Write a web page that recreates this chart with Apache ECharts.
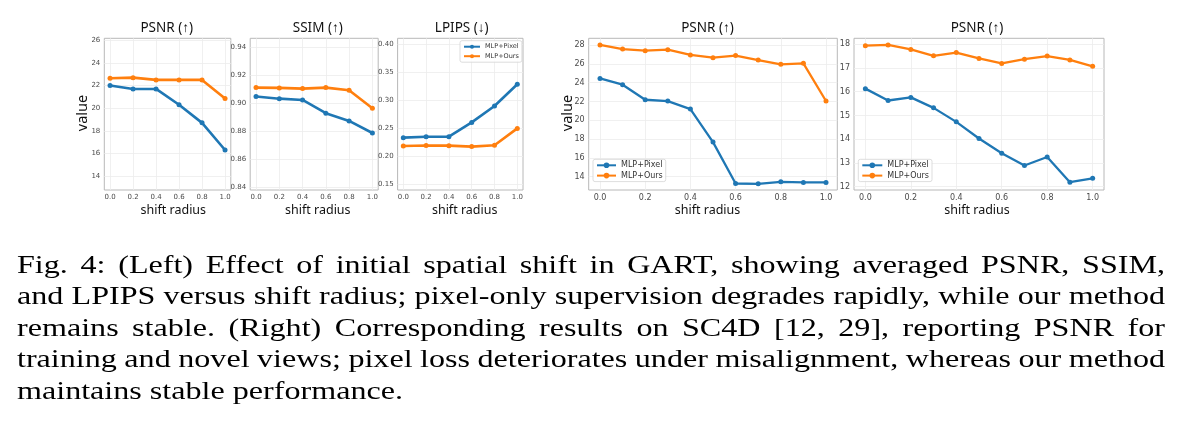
<!DOCTYPE html>
<html>
<head>
<meta charset="utf-8">
<script src="https://cdn.jsdelivr.net/npm/echarts@6/dist/echarts.min.js"></script>
<style>
html,body{margin:0;padding:0;background:#fff;}
#chart{width:1187px;height:440px;}
</style>
</head>
<body>
<div id="chart"></div>
<script>
// ---- data ----
const radius6 = [0.0, 0.2, 0.4, 0.6, 0.8, 1.0];
const radius11 = [0.0, 0.1, 0.2, 0.3, 0.4, 0.5, 0.6, 0.7, 0.8, 0.9, 1.0];
const seriesNames = ['MLP+Pixel', 'MLP+Ours'];

const gartPsnrPixel = [22.0, 21.7, 21.7, 20.3, 18.7, 16.3];
const gartPsnrOurs  = [22.65, 22.7, 22.5, 22.5, 22.5, 20.85];
const gartSsimPixel = [0.9048, 0.9033, 0.9024, 0.8929, 0.8874, 0.8788];
const gartSsimOurs  = [0.9112, 0.9110, 0.9105, 0.9112, 0.9093, 0.8964];
const gartLpipsPixel = [0.2333, 0.2350, 0.2350, 0.2605, 0.2898, 0.3286];
const gartLpipsOurs  = [0.2185, 0.2193, 0.2190, 0.2173, 0.2196, 0.2498];
const sc4dTrainPixel = [24.45, 23.78, 22.18, 22.04, 21.19, 17.68, 13.28, 13.25, 13.46, 13.40, 13.40];
const sc4dTrainOurs  = [28.00, 27.57, 27.40, 27.50, 26.94, 26.65, 26.87, 26.40, 25.94, 26.05, 22.05];
const sc4dNovelPixel = [16.13, 15.63, 15.76, 15.32, 14.73, 14.03, 13.41, 12.89, 13.25, 12.19, 12.35];
const sc4dNovelOurs  = [17.94, 17.97, 17.78, 17.51, 17.65, 17.40, 17.19, 17.37, 17.50, 17.34, 17.07];

const xTicks = [0.0, 0.2, 0.4, 0.6, 0.8, 1.0];
const yTicksGartPsnr = [14, 16, 18, 20, 22, 24, 26];
const yTicksSsim = [0.84, 0.86, 0.88, 0.90, 0.92, 0.94];
const yTicksLpips = [0.15, 0.20, 0.25, 0.30, 0.35, 0.40];
const yTicksTrain = [14, 16, 18, 20, 22, 24, 26, 28];
const yTicksNovel = [12, 13, 14, 15, 16, 17, 18];

const panelTitles = ['PSNR (↑)', 'SSIM (↑)', 'LPIPS (↓)', 'PSNR (↑)', 'PSNR (↑)'];
const xAxisTitle = 'shift radius';
const yAxisTitle = 'value';
const captionLines = [
  'Fig. 4: (Left) Effect of initial spatial shift in GART, showing averaged PSNR, SSIM,',
  'and LPIPS versus shift radius; pixel-only supervision degrades rapidly, while our method',
  'remains stable. (Right) Corresponding results on SC4D [12, 29], reporting PSNR for',
  'training and novel views; pixel loss deteriorates under misalignment, whereas our method',
  'maintains stable performance.'
];

// ---- layout / style ----
const BLUE = '#1f77b4', ORANGE = '#ff7f0e';
const panels = [
  {left: 104.3, width: 126.5, ymin: 12.76, ymax: 26.18, ticks: yTicksGartPsnr, dec: 0, fs: 7, lw: 2.6, ss: 5,
   pixel: gartPsnrPixel, ours: gartPsnrOurs, xs: radius6, titleX: 166.7, xlabX: 173.3},
  {left: 250.2, width: 128, ymin: 0.8381, ymax: 0.9464, ticks: yTicksSsim, dec: 2, fs: 7, lw: 2.6, ss: 5,
   pixel: gartSsimPixel, ours: gartSsimOurs, xs: radius6, titleX: 317.8, xlabX: 317.8},
  {left: 397.6, width: 125.4, ymin: 0.1398, ymax: 0.4107, ticks: yTicksLpips, dec: 2, fs: 7, lw: 2.6, ss: 5,
   pixel: gartLpipsPixel, ours: gartLpipsOurs, xs: radius6, titleX: 461.7, xlabX: 464.7},
  {left: 588.7, width: 248.6, ymin: 12.59, ymax: 28.71, ticks: yTicksTrain, dec: 0, fs: 8, lw: 2.3, ss: 5,
   pixel: sc4dTrainPixel, ours: sc4dTrainOurs, xs: radius11, titleX: 707.5, xlabX: 707.5},
  {left: 854.0, width: 250, ymin: 11.86, ymax: 18.25, ticks: yTicksNovel, dec: 0, fs: 8, lw: 2.3, ss: 5,
   pixel: sc4dNovelPixel, ours: sc4dNovelOurs, xs: radius11, titleX: 977, xlabX: 977}
];
const TOP = 38.3, HEIGHT = 151.7;
const labelColor = '#4a4a4a';

const grids = [], xAxes = [], yAxes = [], series = [], graphics = [];
panels.forEach((p, i) => {
  grids.push({left: p.left, top: TOP, width: p.width, height: HEIGHT, show: true,
    borderColor: '#b8b8b8', borderWidth: 1, backgroundColor: '#fff', containLabel: false, outerBoundsMode: 'none'});
  xAxes.push({type: 'value', gridIndex: i, min: -0.05, max: 1.05,
    axisLine: {show: false}, axisTick: {show: false, customValues: xTicks},
    axisLabel: {customValues: xTicks, formatter: v => v.toFixed(1), fontFamily: 'DejaVu Sans',
      fontSize: p.fs, color: labelColor, margin: 4},
    splitLine: {show: true, lineStyle: {color: '#ececec', width: 0.8}}});
  yAxes.push({type: 'value', gridIndex: i, min: p.ymin, max: p.ymax,
    axisLine: {show: false}, axisTick: {show: false, customValues: p.ticks},
    axisLabel: {customValues: p.ticks, formatter: v => v.toFixed(p.dec), fontFamily: 'DejaVu Sans',
      fontSize: p.fs, color: labelColor, margin: 4},
    splitLine: {show: true, lineStyle: {color: '#ececec', width: 0.8}}});
  [[seriesNames[0], p.pixel, BLUE], [seriesNames[1], p.ours, ORANGE]].forEach(([name, vals, col]) => {
    series.push({type: 'line', name, xAxisIndex: i, yAxisIndex: i,
      data: p.xs.map((x, k) => [x, vals[k]]),
      symbol: 'circle', symbolSize: p.ss, showSymbol: true,
      lineStyle: {color: col, width: p.lw}, itemStyle: {color: col},
      emphasis: {disabled: true}, silent: true, animation: false, z: 3});
  });
  graphics.push({type: 'text', x: p.titleX, y: 28.3, silent: true,
    style: {text: panelTitles[i], font: '13.5px "Noto Sans"', fill: '#111', align: 'center', verticalAlign: 'middle'}});
  graphics.push({type: 'text', x: p.xlabX, y: 210.5, silent: true,
    style: {text: xAxisTitle, font: '12.5px "Noto Sans"', fill: '#111', align: 'center', verticalAlign: 'middle'}});
});
[[82.5, 113], [567.5, 113]].forEach(([x, y]) => {
  graphics.push({type: 'text', x, y, rotation: Math.PI / 2, silent: true,
    style: {text: yAxisTitle, font: '14.5px "Noto Sans"', fill: '#111', align: 'center', verticalAlign: 'middle'}});
});

// caption, justified
const capSize = 25;
const capFont = capSize + 'px "Liberation Serif"';
const ctx = document.createElement('canvas').getContext('2d');
ctx.font = capFont;
const sx = 386 / ctx.measureText(captionLines[captionLines.length - 1]).width;
const capLeft = 17, capRight = 1165, base0 = 274.3, step = 31.5;
captionLines.forEach((line, i) => {
  const yMid = base0 + i * step - capSize * 0.33;
  if (i === captionLines.length - 1) {
    graphics.push({type: 'text', x: capLeft, y: yMid, scaleX: sx, silent: true,
      style: {text: line, font: capFont, fill: '#000', align: 'left', verticalAlign: 'middle'}});
    return;
  }
  const words = line.split(' ');
  const widths = words.map(w => ctx.measureText(w).width * sx);
  const total = widths.reduce((a, b) => a + b, 0);
  const gap = Math.max(3, (capRight - capLeft - total) / (words.length - 1));
  let x = capLeft;
  words.forEach((w, j) => {
    graphics.push({type: 'text', x, y: yMid, scaleX: sx, silent: true,
      style: {text: w, font: capFont, fill: '#000', align: 'left', verticalAlign: 'middle'}});
    x += widths[j] + gap;
  });
});

const legendBase = {orient: 'vertical', data: seriesNames, selectedMode: false,
  borderColor: '#d4d4d4', borderWidth: 0.8, borderRadius: 2, backgroundColor: 'rgba(255,255,255,0.85)'};
const legends = [
  Object.assign({}, legendBase, {left: 460, top: 40.7, itemWidth: 16, itemHeight: 5, itemGap: 2.5,
    padding: [2.5, 3, 2.5, 3], textStyle: {fontFamily: 'DejaVu Sans', fontSize: 6.5, color: '#333'}}),
  Object.assign({}, legendBase, {left: 593, top: 159.3, itemWidth: 19, itemHeight: 7, itemGap: 2.3,
    padding: [2, 3, 2, 3], textStyle: {fontFamily: 'DejaVu Sans', fontSize: 8, color: '#333'}}),
  Object.assign({}, legendBase, {left: 858.3, top: 159.3, itemWidth: 20, itemHeight: 7, itemGap: 2.3,
    padding: [2, 3, 2, 3], textStyle: {fontFamily: 'DejaVu Sans', fontSize: 8, color: '#333'}})
];

const chart = echarts.init(document.getElementById('chart'), null, {renderer: 'canvas'});
chart.setOption({
  animation: false,
  backgroundColor: '#fff',
  grid: grids, xAxis: xAxes, yAxis: yAxes, series, legend: legends, graphic: graphics
});
</script>
</body>
</html>
